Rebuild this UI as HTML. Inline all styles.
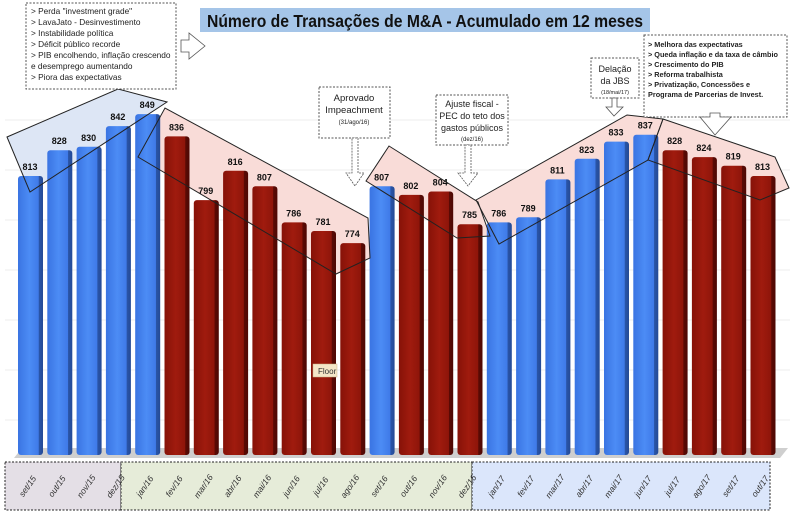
<!DOCTYPE html>
<html><head><meta charset="utf-8"><style>
body{margin:0;background:#fff;}
svg{display:block;font-family:"Liberation Sans",sans-serif;}
</style></head><body>
<svg width="797" height="514" viewBox="0 0 797 514" xmlns="http://www.w3.org/2000/svg">
<defs>
<linearGradient id="gb" x1="0" x2="1"><stop offset="0" stop-color="#3a74e2"/><stop offset="0.45" stop-color="#4c8cf5"/><stop offset="0.82" stop-color="#3f7ae8"/><stop offset="0.84" stop-color="#2a55a8"/><stop offset="1" stop-color="#244a96"/></linearGradient>
<linearGradient id="gr" x1="0" x2="1"><stop offset="0" stop-color="#861208"/><stop offset="0.45" stop-color="#a01b0e"/><stop offset="0.82" stop-color="#8e150a"/><stop offset="0.84" stop-color="#5a0a04"/><stop offset="1" stop-color="#4e0803"/></linearGradient>
</defs>
<g stroke="#eee" stroke-width="1">
<line x1="5" y1="120" x2="790" y2="120"/><line x1="5" y1="170" x2="790" y2="170"/><line x1="5" y1="220" x2="790" y2="220"/><line x1="5" y1="270" x2="790" y2="270"/><line x1="5" y1="320" x2="790" y2="320"/><line x1="5" y1="370" x2="790" y2="370"/><line x1="5" y1="420" x2="790" y2="420"/>
</g>
<g id="ov">
<polygon points="7,137 118,89 167,102 30,192" fill="#dde6f5"/>
<polygon points="138,157 165,108 368,218 370,258 336,274" fill="#f9dcd8"/>
<polygon points="366,181 389,146 478,202 490,236 457,238" fill="#f9dcd8"/>
<polygon points="476,200 627,115 663,119 648,160 499,244" fill="#f9dcd8"/>
<polygon points="663,119 775,157 789,188 760,200 648,160" fill="#f9dcd8"/>
</g>
<polygon points="14,458 780,458 788,448 22,448" fill="#cfcfcf"/>
<g font-size="9" font-weight="bold" fill="#111" text-anchor="middle">
<g transform="translate(18,176)"><rect width="25" height="279" fill="url(#gb)" rx="3"/><text x="12" y="-6">813</text></g>
<g transform="translate(47.3,150.2)"><rect width="25" height="304.8" fill="url(#gb)" rx="3"/><text x="12" y="-6">828</text></g>
<g transform="translate(76.6,146.8)"><rect width="25" height="308.2" fill="url(#gb)" rx="3"/><text x="12" y="-6">830</text></g>
<g transform="translate(105.9,126.1)"><rect width="25" height="328.9" fill="url(#gb)" rx="3"/><text x="12" y="-6">842</text></g>
<g transform="translate(135.2,114.1)"><rect width="25" height="340.9" fill="url(#gb)" rx="3"/><text x="12" y="-6">849</text></g>
<g transform="translate(164.5,136.4)"><rect width="25" height="318.6" fill="url(#gr)" rx="3"/><text x="12" y="-6">836</text></g>
<g transform="translate(193.8,200.1)"><rect width="25" height="254.9" fill="url(#gr)" rx="3"/><text x="12" y="-6">799</text></g>
<g transform="translate(223.1,170.8)"><rect width="25" height="284.2" fill="url(#gr)" rx="3"/><text x="12" y="-6">816</text></g>
<g transform="translate(252.4,186.3)"><rect width="25" height="268.7" fill="url(#gr)" rx="3"/><text x="12" y="-6">807</text></g>
<g transform="translate(281.7,222.4)"><rect width="25" height="232.6" fill="url(#gr)" rx="3"/><text x="12" y="-6">786</text></g>
<g transform="translate(311,231)"><rect width="25" height="224" fill="url(#gr)" rx="3"/><text x="12" y="-6">781</text></g>
<g transform="translate(340.3,243.1)"><rect width="25" height="211.9" fill="url(#gr)" rx="3"/><text x="12" y="-6">774</text></g>
<g transform="translate(369.6,186.3)"><rect width="25" height="268.7" fill="url(#gb)" rx="3"/><text x="12" y="-6">807</text></g>
<g transform="translate(398.9,194.9)"><rect width="25" height="260.1" fill="url(#gr)" rx="3"/><text x="12" y="-6">802</text></g>
<g transform="translate(428.2,191.5)"><rect width="25" height="263.5" fill="url(#gr)" rx="3"/><text x="12" y="-6">804</text></g>
<g transform="translate(457.5,224.2)"><rect width="25" height="230.8" fill="url(#gr)" rx="3"/><text x="12" y="-6">785</text></g>
<g transform="translate(486.8,222.4)"><rect width="25" height="232.6" fill="url(#gb)" rx="3"/><text x="12" y="-6">786</text></g>
<g transform="translate(516.1,217.3)"><rect width="25" height="237.7" fill="url(#gb)" rx="3"/><text x="12" y="-6">789</text></g>
<g transform="translate(545.4,179.4)"><rect width="25" height="275.6" fill="url(#gb)" rx="3"/><text x="12" y="-6">811</text></g>
<g transform="translate(574.7,158.8)"><rect width="25" height="296.2" fill="url(#gb)" rx="3"/><text x="12" y="-6">823</text></g>
<g transform="translate(604,141.6)"><rect width="25" height="313.4" fill="url(#gb)" rx="3"/><text x="12" y="-6">833</text></g>
<g transform="translate(633.3,134.7)"><rect width="25" height="320.3" fill="url(#gb)" rx="3"/><text x="12" y="-6">837</text></g>
<g transform="translate(662.6,150.2)"><rect width="25" height="304.8" fill="url(#gr)" rx="3"/><text x="12" y="-6">828</text></g>
<g transform="translate(691.9,157.1)"><rect width="25" height="297.9" fill="url(#gr)" rx="3"/><text x="12" y="-6">824</text></g>
<g transform="translate(721.2,165.7)"><rect width="25" height="289.3" fill="url(#gr)" rx="3"/><text x="12" y="-6">819</text></g>
<g transform="translate(750.5,176)"><rect width="25" height="279" fill="url(#gr)" rx="3"/><text x="12" y="-6">813</text></g>
</g>
<g stroke="#222" stroke-width="1" fill="none">
<polygon points="7,137 118,89 167,102 30,192"/>
<polygon points="138,157 165,108 368,218 370,258 336,274"/>
<polygon points="366,181 389,146 478,202 490,236 457,238"/>
<polygon points="476,200 627,115 663,119 648,160 499,244"/>
<polygon points="663,119 775,157 789,188 760,200 648,160"/>
</g>
<rect x="313" y="364" width="24" height="13" fill="#f4e6c8" stroke="#c9b48a" stroke-width="0.5"/>
<text x="318" y="374" font-size="8" fill="#333">Floor</text>
<rect x="5" y="462" width="116" height="48" fill="#e4dfe6" stroke="#222" stroke-dasharray="2,1.5"/>
<rect x="121" y="462" width="351" height="48" fill="#e6ecd9" stroke="#222" stroke-dasharray="2,1.5"/>
<rect x="472" y="462" width="298" height="48" fill="#dbe6fb" stroke="#222" stroke-dasharray="2,1.5"/>
<g font-size="8.5" font-style="italic" fill="#333" text-anchor="middle">
<text transform="translate(30,488) rotate(-55)">set/15</text>
<text transform="translate(59.3,488) rotate(-55)">out/15</text>
<text transform="translate(88.6,488) rotate(-55)">nov/15</text>
<text transform="translate(117.9,488) rotate(-55)">dez/15</text>
<text transform="translate(147.2,488) rotate(-55)">jan/16</text>
<text transform="translate(176.5,488) rotate(-55)">fev/16</text>
<text transform="translate(205.8,488) rotate(-55)">mar/16</text>
<text transform="translate(235.1,488) rotate(-55)">abr/16</text>
<text transform="translate(264.4,488) rotate(-55)">mai/16</text>
<text transform="translate(293.7,488) rotate(-55)">jun/16</text>
<text transform="translate(323,488) rotate(-55)">jul/16</text>
<text transform="translate(352.3,488) rotate(-55)">ago/16</text>
<text transform="translate(381.6,488) rotate(-55)">set/16</text>
<text transform="translate(410.9,488) rotate(-55)">out/16</text>
<text transform="translate(440.2,488) rotate(-55)">nov/16</text>
<text transform="translate(469.5,488) rotate(-55)">dez/16</text>
<text transform="translate(498.8,488) rotate(-55)">jan/17</text>
<text transform="translate(528.1,488) rotate(-55)">fev/17</text>
<text transform="translate(557.4,488) rotate(-55)">mar/17</text>
<text transform="translate(586.7,488) rotate(-55)">abr/17</text>
<text transform="translate(616,488) rotate(-55)">mai/17</text>
<text transform="translate(645.3,488) rotate(-55)">jun/17</text>
<text transform="translate(674.6,488) rotate(-55)">jul/17</text>
<text transform="translate(703.9,488) rotate(-55)">ago/17</text>
<text transform="translate(733.2,488) rotate(-55)">set/17</text>
<text transform="translate(762.5,488) rotate(-55)">out/17</text>
</g>
<rect x="200" y="8" width="450" height="24" fill="#a5c5e8"/>
<text x="425" y="27" text-anchor="middle" font-size="17.5" font-weight="bold" fill="#111" textLength="436" lengthAdjust="spacingAndGlyphs">Número de Transações de M&amp;A - Acumulado em 12 meses</text>
<rect x="26" y="3" width="150" height="86" fill="#fff" stroke="#555" stroke-dasharray="2,1.5"/>
<g font-size="8.3" fill="#222">
<text x="31" y="14">&gt; Perda "investment grade"</text>
<text x="31" y="25">&gt; LavaJato - Desinvestimento</text>
<text x="31" y="36">&gt; Instabilidade política</text>
<text x="31" y="47">&gt; Déficit público recorde</text>
<text x="31" y="58">&gt; PIB encolhendo, inflação crescendo</text>
<text x="31" y="69">e desemprego aumentando</text>
<text x="31" y="80">&gt; Piora das expectativas</text>
</g>
<polygon points="181,40 189,40 189,33 205,46 189,59 189,52 181,52" fill="#fff" stroke="#555" stroke-width="0.8"/>
<rect x="319" y="87" width="71" height="51" fill="#fff" stroke="#555" stroke-dasharray="2,1.5"/>
<text x="354" y="101" text-anchor="middle" font-size="9.5" fill="#222">Aprovado</text>
<text x="354" y="113" text-anchor="middle" font-size="9.5" fill="#222">Impeachment</text>
<text x="354" y="124" text-anchor="middle" font-size="6" fill="#222">(31/ago/16)</text>
<polygon points="352,138 358,138 358,173 364,173 355,186 346,173 352,173" fill="#fff" stroke="#555" stroke-width="0.8" stroke-dasharray="2,1"/>
<rect x="436" y="95" width="72" height="50" fill="#fff" stroke="#555" stroke-dasharray="2,1.5"/>
<text x="472" y="107" text-anchor="middle" font-size="9" fill="#222">Ajuste fiscal -</text>
<text x="472" y="119" text-anchor="middle" font-size="9" fill="#222">PEC do teto dos</text>
<text x="472" y="131" text-anchor="middle" font-size="9" fill="#222">gastos públicos</text>
<text x="472" y="141" text-anchor="middle" font-size="6" fill="#222">(dez/16)</text>
<polygon points="465,145 471,145 471,173 478,173 468,186 458,173 465,173" fill="#fff" stroke="#555" stroke-width="0.8" stroke-dasharray="2,1"/>
<rect x="591" y="58" width="48" height="40" fill="#fff" stroke="#555" stroke-dasharray="2,1.5"/>
<text x="615" y="72" text-anchor="middle" font-size="9" fill="#222">Delação</text>
<text x="615" y="84" text-anchor="middle" font-size="9" fill="#222">da JBS</text>
<text x="615" y="94" text-anchor="middle" font-size="5.5" fill="#222">(18/mai/17)</text>
<polygon points="612,98 617,98 617,107 623,107 614,116 606,107 612,107" fill="#fff" stroke="#555" stroke-width="0.8"/>
<rect x="644" y="35" width="143" height="82" fill="#fff" stroke="#555" stroke-dasharray="2,1.5"/>
<g font-size="7.3" font-weight="bold" fill="#222">
<text x="648" y="47">&gt; Melhora das expectativas</text>
<text x="648" y="57">&gt; Queda inflação e da taxa de câmbio</text>
<text x="648" y="67">&gt; Crescimento do PIB</text>
<text x="648" y="77">&gt; Reforma trabalhista</text>
<text x="648" y="87">&gt; Privatização, Concessões e</text>
<text x="648" y="97">Programa de Parcerias de Invest.</text>
</g>
<polygon points="700,117 710,117 710,113 720,113 720,117 731,117 715,135" fill="#fff" stroke="#555" stroke-width="0.8"/>
</svg>
</body></html>
